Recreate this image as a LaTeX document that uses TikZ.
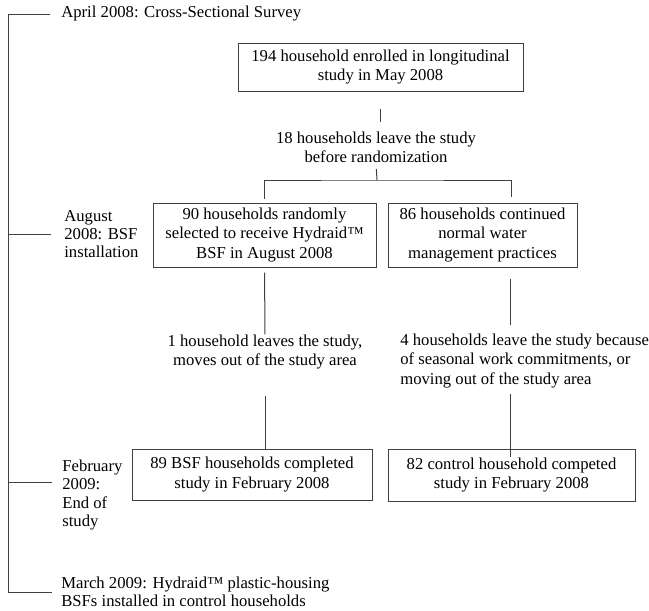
\documentclass[tikz,border=0pt]{standalone}
\usepackage{fontspec}
\setmainfont{Liberation Serif}
\usetikzlibrary{positioning, calc}

\begin{document}
\begin{tikzpicture}[
    x=0.6pt, y=-0.6pt,
    stage/.style={draw=black!75, line width=0.6pt, align=center, font=\fontsize{10}{11.6}\selectfont, inner sep=2pt},
    note/.style={align=center, font=\fontsize{10}{11.6}\selectfont, inner sep=0pt},
    when/.style={align=left, anchor=west, font=\fontsize{10}{11}\selectfont, inner sep=0pt},
    link/.style={draw=black!75, line width=0.6pt}
]
\useasboundingbox (0,0) rectangle (649,610);

\def\xSpine{8}
\def\xEnrol{380.5}
\def\xBsf{264.5}
\def\xCtrl{482.5}

% Timeline on the left
\coordinate (spine) at (\xSpine, 0);
\node[when] (april)  at (61, 14)  {April 2008: Cross-Sectional Survey};
\node[when] (august) at (64, 234) {August\\2008: BSF\\installation};
\node[when] (feb)    at (62, 495) {February\\2009:\\End of\\study};
\node[when] (march)  at (61, 592) {March 2009: Hydraid™ plastic-housing\\BSFs installed in control households};

% Study flow
\node[stage, minimum width=171pt, minimum height=28.8pt] (enrol) at (\xEnrol, 67)
    {194 household enrolled in longitudinal\\study in May 2008};
\node[note] (leave18) at (376, 147) {18 households leave the study\\before randomization};
\coordinate (split) at (377, 180);
\node[stage, minimum width=133.8pt, minimum height=38.4pt] (bsf) at (\xBsf, 235)
    {90 households randomly\\selected to receive Hydraid™\\BSF in August 2008};
\node[stage, minimum width=113.4pt, minimum height=38.4pt] (ctrl) at (\xCtrl, 235)
    {86 households continued\\normal water\\management practices};
\node[note] (leave1) at (265, 352) {1 household leaves the study,\\moves out of the study area};
\node[note, align=left, anchor=west] (leave4) at (400, 361)
    {4 households leave the study because\\of seasonal work commitments, or\\moving out of the study area};
\node[stage, minimum width=144pt, minimum height=30.6pt] (bsfend) at (252, 474.5)
    {89 BSF households completed\\study in February 2008};
\node[stage, minimum width=148.2pt, minimum height=31.2pt] (ctrlend) at (511.5, 475)
    {82 control household competed\\study in February 2008};

% Spine and ticks
\draw[link] ([xshift=-6.6pt]april.west) -| (\xSpine, 592) -- ([xshift=-5.4pt]march.west);
\draw[link] ([xshift=-7.8pt]august.west) -- (august.west -| spine);
\draw[link] ([xshift=-6pt, yshift=7.8pt]feb.west) -- ([yshift=7.8pt]feb.west -| spine);

% Connectors
\draw[link, shorten <=10.2pt, shorten >=5.4pt] (enrol.south) -- (enrol.south |- leave18.north);
\draw[link, shorten <=3.6pt] (leave18.south) -- (split);
\draw[link] ([yshift=2.4pt]bsf.north) |- (split) -| ([xshift=17.1pt, yshift=3.6pt]ctrl.north);
\draw[link, shorten <=3pt] (bsf.south) -- (leave1.north);
\draw[link, shorten <=15.6pt] (leave1.south) -- (leave1.south |- bsfend.north);
\draw[link, shorten <=6.6pt, shorten >=5.4pt] ([xshift=16.5pt]ctrl.south) -- ([xshift=16.5pt]ctrl.south |- leave4.north);
\draw[link, shorten <=3.6pt, shorten >=-4.8pt] ([xshift=16.5pt]ctrl.south |- leave4.south) -- ([xshift=16.5pt]ctrl.south |- ctrlend.north);
\end{tikzpicture}
\end{document}
